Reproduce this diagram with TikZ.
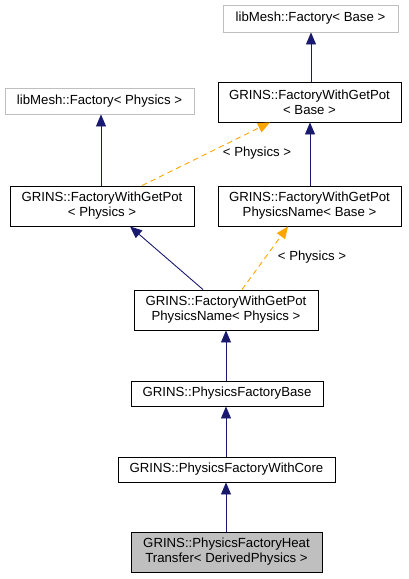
\documentclass[tikz,border=0pt]{standalone}
\usepackage{fontspec}
\setmainfont{Liberation Sans}
\usetikzlibrary{arrows.meta,calc}
\definecolor{edgeblue}{HTML}{191970}
\definecolor{edgeorange}{HTML}{FFA500}
\definecolor{grayborder}{HTML}{BFBFBF}
\definecolor{grayfill}{HTML}{BFBFBF}
\begin{document}
\begin{tikzpicture}[x=1pt,y=-1pt,
  every node/.style={font=\fontsize{13.2}{15}\selectfont},
  cls/.style={draw=black,line width=0.9pt,inner sep=0pt,align=center},
  ext/.style={draw=grayborder,line width=0.9pt,inner sep=0pt,align=center},
  inh/.style={draw=edgeblue,line width=0.9pt,-{Triangle[length=12pt,width=10pt]}},
  tmpl/.style={draw=edgeorange,line width=0.9pt,dash pattern=on 5.5pt off 4pt,-{Triangle[length=12pt,width=10pt,fill=edgeorange]}},
  lbl/.style={inner sep=0pt}]
\path[use as bounding box] (0,0) rectangle (408,579);
\node[ext,minimum width=175pt,minimum height=27pt] (lfb) at (310.5,18.5) {libMesh::Factory< Base >};
\node[cls,minimum width=183pt,minimum height=40pt] (fgb) at (309.5,102) {GRINS::FactoryWithGetPot\\< Base >};
\node[ext,minimum width=189pt,minimum height=26pt] (lfp) at (99.5,101) {libMesh::Factory< Physics >};
\node[cls,minimum width=184pt,minimum height=40pt] (fgp) at (102,206) {GRINS::FactoryWithGetPot\\< Physics >};
\node[cls,minimum width=183pt,minimum height=40pt] (fgnb) at (309.5,206) {GRINS::FactoryWithGetPot\\PhysicsName< Base >};
\node[cls,minimum width=184pt,minimum height=40pt] (fgnp) at (226,310) {GRINS::FactoryWithGetPot\\PhysicsName< Physics >};
\node[cls,minimum width=192pt,minimum height=25pt] (pfb) at (227,393.5) {GRINS::PhysicsFactoryBase};
\node[cls,minimum width=217pt,minimum height=25pt] (pfc) at (226.5,469.5) {GRINS::PhysicsFactoryWithCore};
\node[cls,fill=grayfill,minimum width=191pt,minimum height=40pt] (pfh) at (226.5,552) {GRINS::PhysicsFactoryHeat\\Transfer< DerivedPhysics >};

\draw[inh] (fgb.north -| lfb.south) ++(0.5,0) coordinate (a1) -- (a1 |- lfb.south);
\draw[inh] (fgnb.north) ++(0.5,0) coordinate (a2) -- (a2 |- fgb.south);
\draw[inh] ([xshift=-1pt]fgp.north) coordinate (a3) -- (a3 |- lfp.south);
\draw[inh] ([xshift=-23pt]fgnp.north) -- ([xshift=28pt]fgp.south);
\draw[inh] (pfb.north -| fgnp.north) -- (fgnp.south);
\draw[inh] (pfc.north -| fgnp.north) -- (pfb.south -| fgnp.north);
\draw[inh] (pfh.north -| fgnp.north) -- (pfc.south -| fgnp.north);

\draw[tmpl] ([xshift=40pt]fgp.north) -- ([xshift=-39.5pt]fgb.south);
\node[lbl] (t1) at (257,153) {< Physics >};
\draw[tmpl] ([xshift=16pt]fgnp.north) -- ([xshift=-21.5pt]fgnb.south);
\node[lbl] (t2) at (312,257) {< Physics >};
\end{tikzpicture}
\end{document}
